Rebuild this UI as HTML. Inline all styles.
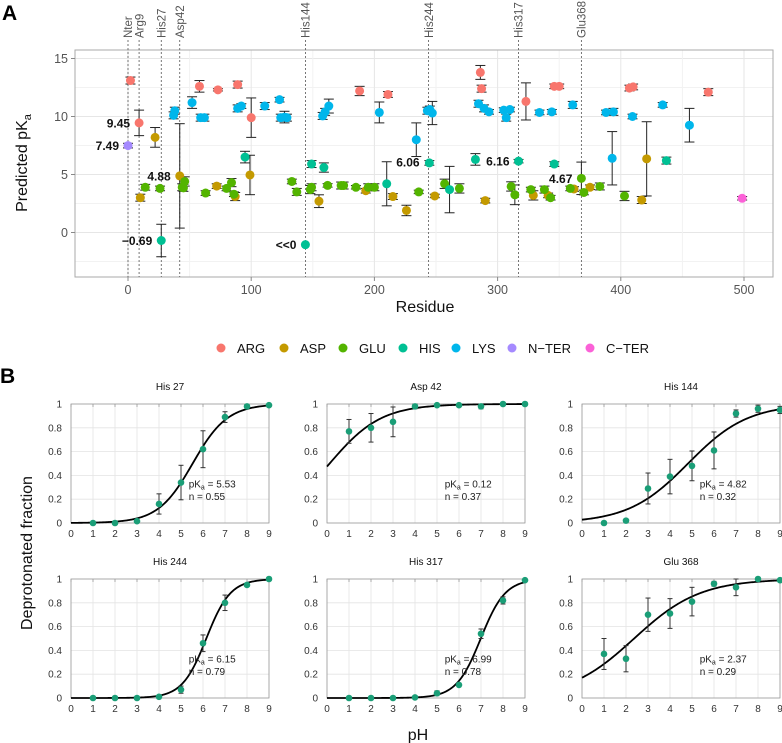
<!DOCTYPE html>
<html><head><meta charset="utf-8"><style>
body{margin:0;background:#fff;}
svg{display:block;font-family:"Liberation Sans",sans-serif;}
</style></head><body>
<svg id="fig" width="782" height="743" viewBox="0 0 782 743"></svg>
<script>
// Panel A data
const resA = {
 ARG:[2,9,58,73,89,100,188,211,286,287,323,346,350,407,410,471],
 ASP:[10,22,42,72,87,99,155,193,215,226,249,290,329,341,362,375,417,421],
 GLU:[14,26,44,45,46,63,80,84,86,133,137,148,149,162,173,175,185,195,200,236,257,269,311,314,327,338,343,359,368,370,383,403],
 HIS:[27,95,144,149,159,210,244.6,261,282,317,346,437],
 LYS:[37,38,52,59,62,89,92,111,123,124,127,129,158,160,163,204,234,243,245,247,284.5,289,293,305,307,310,334,344,361,388,394,393,409.5,434,455.7],
 "N-TER":[0],
 "C-TER":[498.5]
};
const valA = {
 ARG:[13.1,9.45,12.6,12.3,12.75,9.9,12.2,11.9,13.8,12.4,11.3,12.6,12.6,12.45,12.55,12.1],
 ASP:[3.0,8.2,4.88,4.0,3.1,4.96,2.7,3.6,3.1,1.9,3.15,2.75,3.2,3.2,3.75,3.9,2.8,6.35],
 GLU:[3.9,3.8,3.9,3.85,4.4,3.4,3.8,4.3,3.3,4.4,3.5,3.7,3.9,4.06,4.05,4.05,3.9,3.9,3.9,3.5,4.2,3.8,3.97,3.25,3.7,3.7,3.0,3.8,4.67,3.45,3.97,3.15],
 HIS:[-0.69,6.5,-1.05,5.9,5.6,4.2,6.0,3.7,6.3,6.15,5.9,6.2],
 LYS:[10.1,10.5,11.2,9.9,9.9,10.7,10.9,10.9,11.45,9.9,9.95,9.9,10.05,10.4,10.9,10.35,8.0,10.5,10.6,10.3,11.1,10.7,10.4,10.55,9.9,10.6,10.35,10.4,11.0,10.35,10.4,6.4,10.0,11.0,9.25],
 "N-TER":[7.49],
 "C-TER":[2.95]
};
const errA = {
 ARG:[.3,1.1,.5,.1,.3,1.7,.4,.25,.6,.3,1.6,.2,.2,.25,.25,.3],
 ASP:[.3,.85,4.5,.2,.35,1.7,.55,.2,.25,.45,.15,.2,.4,.2,.2,.2,.3,3.2],
 GLU:[.25,.2,.3,.3,.4,.2,.2,.35,.2,.2,.3,.35,.3,.15,.3,.3,.15,.3,.3,.15,.4,.4,.4,.85,.2,.3,.2,.2,1.4,.2,.3,.4],
 HIS:[1.4,.5,0,.3,.4,1.9,.2,2.0,.5,.15,.2,.3],
 LYS:[.3,.3,.5,.3,.3,.3,.2,.3,.2,.3,.5,.3,.3,.3,.6,.9,1.45,.3,.3,1.0,.3,.3,.2,.2,.3,.2,.2,.2,.3,.2,.3,2.3,.2,.2,1.45],
 "N-TER":[.2],
 "C-TER":[.15]
};
const typesA = ["ARG","ASP","GLU","HIS","LYS","N-TER","C-TER"];
const colorsA = {ARG:"#F8766D",ASP:"#C49A00",GLU:"#53B400",HIS:"#00C094",LYS:"#00B6EB","N-TER":"#A58AFF","C-TER":"#FB61D7"};
const markRes = [0,9,27,42,144,244,317,368];
const markNames = ["Nter","Arg9","His27","Asp42","His144","His244","His317","Glu368"];
const annRes = [9,0,42,27,144,244,317,368];
const annVal = [9.45,7.49,4.88,-0.69,-1.05,6.06,6.16,4.67];
const annText = ["9.45","7.49","4.88","\u22120.69","<<0","6.06","6.16","4.67"];
const xTicksA = [0,100,200,300,400,500];
const yTicksA = [0,5,10,15];

// Panel B data
const phB = [1,2,3,4,5,6,7,8,9];
const titlesB = ["His 27","Asp 42","His 144","His 244","His 317","Glu 368"];
const pkaB = [5.53,0.12,4.82,6.15,6.99,2.37];
const nB = [0.55,0.37,0.32,0.79,0.78,0.29];
const fracB = [
 [0.0,0.0,0.015,0.16,0.34,0.62,0.89,0.98,0.99],
 [0.77,0.80,0.85,0.98,0.99,0.99,0.98,1.0,1.0],
 [0.0,0.02,0.29,0.39,0.48,0.61,0.92,0.96,0.95],
 [0,0,0,0.01,0.07,0.46,0.80,0.95,1.0],
 [0,0,0,0.005,0.04,0.11,0.54,0.82,0.99],
 [0.37,0.33,0.70,0.71,0.81,0.96,0.93,1.0,0.99]
];
const errB = [
 [0,0,0,0.085,0.145,0.155,0.045,0,0],
 [0.1,0.12,0.125,0.02,0,0,0.02,0,0],
 [0,0,0.13,0.145,0.125,0.155,0.03,0.03,0.03],
 [0,0,0,0,0.03,0.07,0.065,0,0],
 [0,0,0,0,0.02,0,0.04,0.03,0],
 [0.13,0.11,0.14,0.125,0.12,0.02,0.07,0,0]
];

const NS="http://www.w3.org/2000/svg";
const svg=document.getElementById('fig');
function el(tag,attrs,parent,text){
  const e=document.createElementNS(NS,tag);
  for(const k in attrs) e.setAttribute(k,attrs[k]);
  if(text!==undefined) e.textContent=text;
  (parent||svg).appendChild(e);
  return e;
}
function grp(name){
  const g=el('g',{});
  
  
  return g;
}

// ---------- Panel A ----------
const L=75,R=773,T=50,B=277;
const xs=r=>128+r*1.232;
const ys=v=>232.5-v*11.6;
let t=el('text',{x:2,y:20,'font-size':21,'font-weight':'bold'},svg,'A');



const gridA=grp('panel-a-grid');
el('rect',{x:L,y:T,width:R-L,height:B-T,fill:'#fff',stroke:'none'},gridA);
for(let v=-2.5;v<=15;v+=2.5){const y=ys(v);if(y>T&&y<B)el('line',{x1:L,x2:R,y1:y,y2:y,stroke:(v%5===0)?'#e6e6e6':'#f2f2f2','stroke-width':1},gridA);}
for(let r=-50;r<=550;r+=50){const x=xs(r);if(x>L&&x<R)el('line',{x1:x,x2:x,y1:T,y2:B,stroke:(r%100===0)?'#e6e6e6':'#f2f2f2','stroke-width':1},gridA);}
el('rect',{x:L,y:T,width:R-L,height:B-T,fill:'none',stroke:'#aaa','stroke-width':1},gridA);

const axA=grp('panel-a-axes');
yTicksA.forEach(v=>{
  const y=ys(v);
  el('line',{x1:L-4,x2:L,y1:y,y2:y,stroke:'#888'},axA);
  const tt=el('text',{x:L-7,y:y+4.5,'font-size':12.5,fill:'#555','text-anchor':'end'},axA,String(v));
  
  
});
xTicksA.forEach(r=>{
  const x=xs(r);
  el('line',{x1:x,x2:x,y1:B,y2:B+4,stroke:'#888'},axA);
  const tt=el('text',{x:x,y:B+17,'font-size':12.5,fill:'#555','text-anchor':'middle'},axA,String(r));
  
  
});
t=el('text',{x:425,y:312,'font-size':16,'text-anchor':'middle',fill:'#111'},svg,'Residue');


t=el('text',{transform:'translate(27,163) rotate(-90)','font-size':16,'text-anchor':'middle',fill:'#111'},svg);


t.appendChild(document.createTextNode('Predicted pK'));
el('tspan',{'font-size':11,dy:4},t,'a');

// marker lines
const mk=grp('residue-markers');
markRes.forEach((r,i)=>{
  const x=xs(r);
  el('line',{x1:x,x2:x,y1:40,y2:B,stroke:'#555','stroke-width':0.8,'stroke-dasharray':'2,2'},mk);
  const lt=el('text',{transform:`translate(${x+4.2},38) rotate(-90)`,'font-size':11.5,fill:'#555'},mk,markNames[i]);
  
  
});

// error bars then points
const ptsA=grp('panel-a-points');
typesA.forEach(tp=>{
  resA[tp].forEach((r,i)=>{
    const x=xs(r),v=valA[tp][i],e=errA[tp][i];
    if(e>0){
      const y1=ys(v-e),y2=ys(v+e);
      el('line',{x1:x,x2:x,y1:y1,y2:y2,stroke:'#222','stroke-width':1},ptsA);
      el('line',{x1:x-5,x2:x+5,y1:y1,y2:y1,stroke:'#222','stroke-width':1},ptsA);
      el('line',{x1:x-5,x2:x+5,y1:y2,y2:y2,stroke:'#222','stroke-width':1},ptsA);
    }
  });
});
typesA.forEach(tp=>{
  resA[tp].forEach((r,i)=>{
    const c=el('circle',{cx:xs(r),cy:ys(valA[tp][i]),r:4.5,fill:colorsA[tp]},ptsA);
    
    
  });
});
annRes.forEach((r,i)=>{
  const a=el('text',{x:xs(r)-9,y:ys(annVal[i])+4.5,'font-size':12,'font-weight':'bold','text-anchor':'end',fill:'#111'},svg,annText[i]);
  
  
});

// legend
const legX=[221,284,343,403,456,512,590];
const lg=grp('legend');
typesA.forEach((tp,i)=>{
  el('circle',{cx:legX[i],cy:348,r:4.5,fill:colorsA[tp]},lg);
  const lt=el('text',{x:legX[i]+16,y:353,'font-size':13,fill:'#111'},lg,tp.replace('-','\u2212'));
  
  
});

// ---------- Panel B ----------
t=el('text',{x:0,y:383,'font-size':21,'font-weight':'bold'},svg,'B');


const fx=[71,327,582], fy=[404,579], FW=198, FH=119;
titlesB.forEach((title,k)=>{
  const ox=fx[k%3], oy=fy[Math.floor(k/3)];
  const sx=p=>ox+p/9*FW, sy=f=>oy+FH-f*FH;
  const g=grp('facet-'+title.toLowerCase().replace(' ','-'));
  const tt=el('text',{x:ox+FW/2,y:oy-14,'font-size':10,'text-anchor':'middle',fill:'#111'},g,title);
  
  
  for(let p=0;p<=9;p++)el('line',{x1:sx(p),x2:sx(p),y1:oy,y2:oy+FH,stroke:'#e4e4e4','stroke-width':0.8},g);
  for(let f=0;f<=1.001;f+=0.2)el('line',{x1:ox,x2:ox+FW,y1:sy(f),y2:sy(f),stroke:'#e4e4e4','stroke-width':0.8},g);
  el('rect',{x:ox,y:oy,width:FW,height:FH,fill:'none',stroke:'#999','stroke-width':0.8},g);
  for(let p=0;p<=9;p++){
    el('line',{x1:sx(p),x2:sx(p),y1:oy,y2:oy+3,stroke:'#999','stroke-width':0.8},g);
    el('text',{x:sx(p),y:oy+FH+14,'font-size':10,'text-anchor':'middle',fill:'#333'},g,String(p));
  }
  ['0','0.2','0.4','0.6','0.8','1'].forEach((s,j)=>{
    el('text',{x:ox-9,y:sy(j*0.2)+3.5,'font-size':10,'text-anchor':'end',fill:'#333'},g,s);
  });
  let d='';
  for(let i=0;i<=180;i++){const p=i*9/180;const f=1/(1+Math.pow(10,nB[k]*(pkaB[k]-p)));d+=(i?'L':'M')+sx(p).toFixed(2)+','+sy(f).toFixed(2);}
  const cv=el('path',{d:d,fill:'none',stroke:'#000','stroke-width':1.8},g);
  
  
  phB.forEach((p,i)=>{
    const e=errB[k][i],f=fracB[k][i],x=sx(p);
    if(e>0){
      const y1=sy(f-e),y2=sy(Math.min(f+e,1.02));
      el('line',{x1:x,x2:x,y1:y1,y2:y2,stroke:'#333','stroke-width':1},g);
      el('line',{x1:x-2.5,x2:x+2.5,y1:y1,y2:y1,stroke:'#333','stroke-width':1},g);
      el('line',{x1:x-2.5,x2:x+2.5,y1:y2,y2:y2,stroke:'#333','stroke-width':1},g);
    }
    const c=el('circle',{cx:x,cy:sy(f),r:3.3,fill:'#1a9e77'},g);
    
    
  });
  const at=el('text',{x:sx(5.35),y:sy(0.3),'font-size':10,fill:'#222'},g);
  
  
  at.appendChild(document.createTextNode('pK'));
  el('tspan',{'font-size':7,dy:2},at,'a');
  el('tspan',{dy:-2},at,' = '+pkaB[k].toFixed(2));
  const nt=el('text',{x:sx(5.35),y:sy(0.2)+1,'font-size':10,fill:'#222'},g,'n = '+nB[k].toFixed(2));
  
  
});
t=el('text',{transform:'translate(32,553) rotate(-90)','font-size':16,'text-anchor':'middle',fill:'#111'},svg,'Deprotonated fraction');


t=el('text',{x:418,y:740,'font-size':16,'text-anchor':'middle',fill:'#111'},svg,'pH');


</script>
</body></html>
